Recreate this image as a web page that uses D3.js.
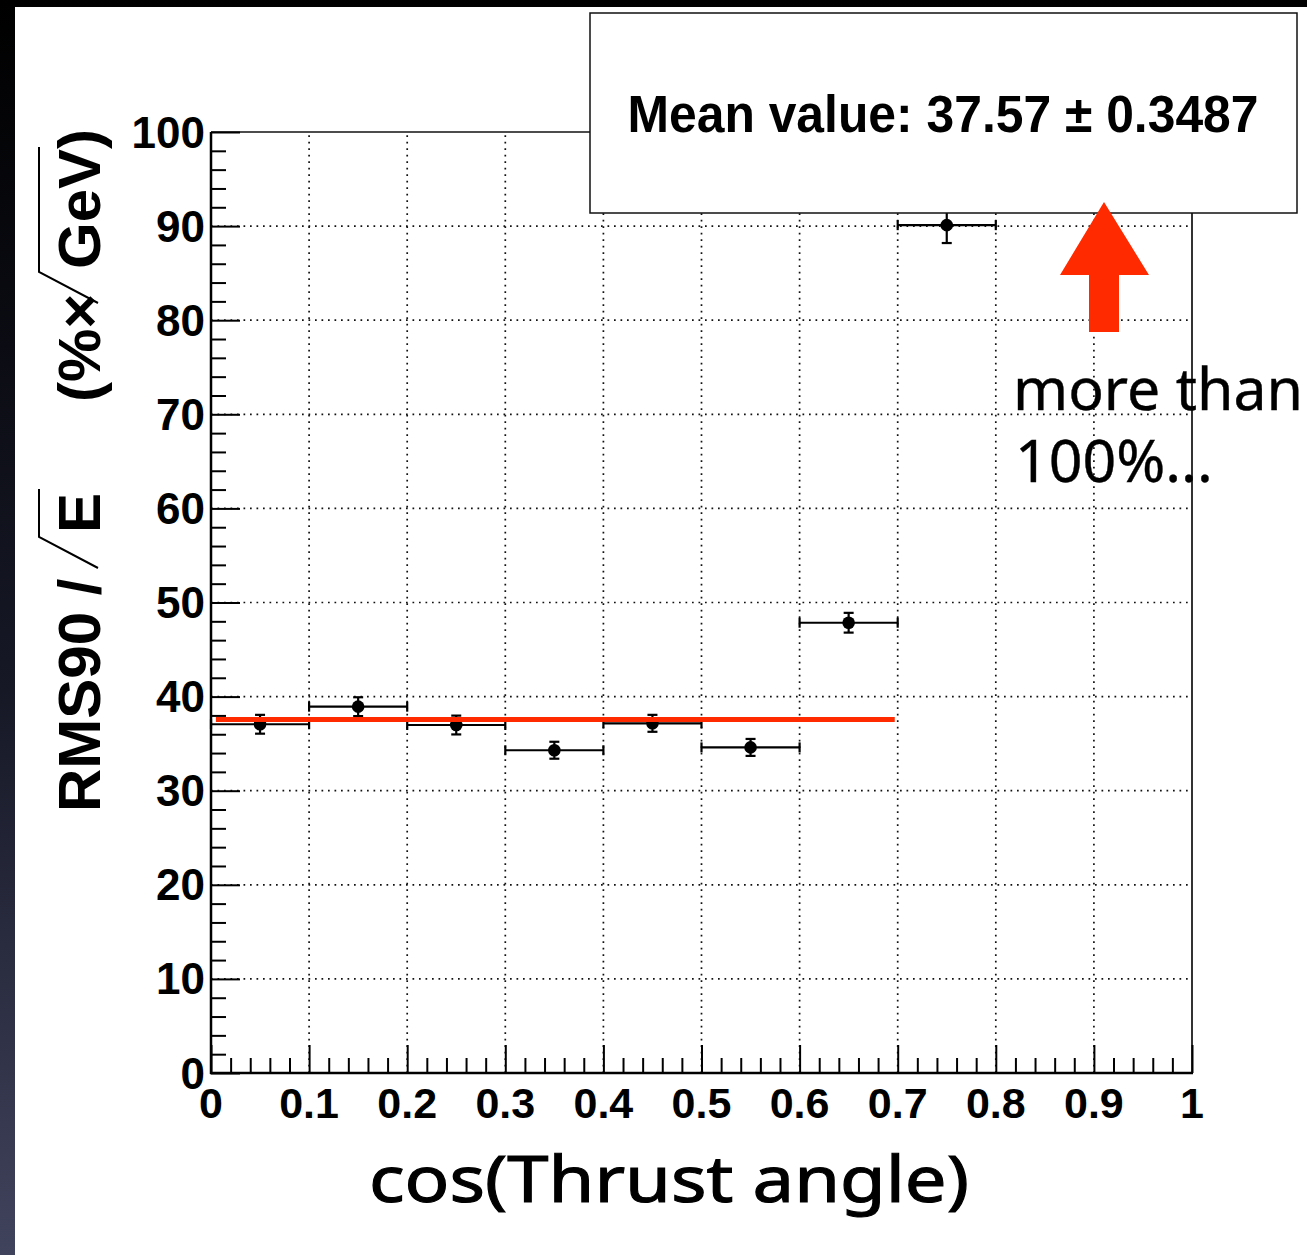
<!DOCTYPE html>
<html>
<head>
<meta charset="utf-8">
<script src="https://cdn.jsdelivr.net/npm/d3@7"></script>
<style>
  html, body { margin: 0; padding: 0; background: #000; }
  svg { display: block; }
</style>
</head>
<body>
<svg id="chart" width="1307" height="1255"></svg>
<script>
// ---- data ----
const cosBins      = [0.05, 0.15, 0.25, 0.35, 0.45, 0.55, 0.65, 0.75];
const rmsValues    = [37.06, 38.93, 36.98, 34.3, 37.16, 34.6, 47.85, 90.1];
const rmsErrors    = [1.0, 1.0, 1.0, 0.9, 0.9, 0.9, 1.05, 1.9];
const binHalfWidth = 0.05;
const meanValue    = 37.57;
const meanError    = 0.3487;
const fitRange     = [0.005, 0.697];
const xTickValues  = [0, 0.1, 0.2, 0.3, 0.4, 0.5, 0.6, 0.7, 0.8, 0.9, 1];
const xTickLabels  = ["0", "0.1", "0.2", "0.3", "0.4", "0.5", "0.6", "0.7", "0.8", "0.9", "1"];
const yTickValues  = [0, 10, 20, 30, 40, 50, 60, 70, 80, 90, 100];
const yTickLabels  = ["0", "10", "20", "30", "40", "50", "60", "70", "80", "90", "100"];

const svg = d3.select("#chart");
const W = 1307, H = 1255;

// background (slide frame)
const defs = svg.append("defs");
const grad = defs.append("linearGradient").attr("id", "bg").attr("x1", 0).attr("y1", 0).attr("x2", 0).attr("y2", 1);
grad.append("stop").attr("offset", "0%").attr("stop-color", "#000000");
grad.append("stop").attr("offset", "55%").attr("stop-color", "#161826");
grad.append("stop").attr("offset", "100%").attr("stop-color", "#40435c");
svg.append("rect").attr("width", W).attr("height", H).attr("fill", "url(#bg)");
svg.append("rect").attr("x", 15).attr("y", 7).attr("width", W - 15).attr("height", H - 7).attr("fill", "#fff");

const x = d3.scaleLinear().domain([0, 1]).range([211, 1192]);
const y = d3.scaleLinear().domain([0, 100]).range([1073, 132]);

const plot = svg.append("g");

// grid
const grid = plot.append("g").attr("stroke", "#111").attr("stroke-width", 1.7).attr("stroke-dasharray", "1.7,4.8");
grid.selectAll("line.gx").data(xTickValues.filter(v => v > 0 && v < 1)).join("line")
  .attr("class", "gx")
  .attr("x1", d => x(d)).attr("x2", d => x(d)).attr("y1", y(0)).attr("y2", y(100));
grid.selectAll("line.gy").data(yTickValues.filter(v => v > 0 && v < 100)).join("line")
  .attr("class", "gy")
  .attr("y1", d => y(d)).attr("y2", d => y(d)).attr("x1", x(0)).attr("x2", x(1));

// frame top & right
plot.append("line").attr("x1", x(0)).attr("x2", x(1)).attr("y1", y(100)).attr("y2", y(100))
  .attr("stroke", "#111").attr("stroke-width", 1.5);
plot.append("line").attr("x1", x(1)).attr("x2", x(1)).attr("y1", y(100)).attr("y2", y(0))
  .attr("stroke", "#333").attr("stroke-width", 2);

// axes with minor ticks
const xMinor = d3.range(0, 51).map(i => i * 0.02).filter(v => Math.abs(v * 10 - Math.round(v * 10)) > 1e-6);
const yMinor = d3.range(0, 51).map(i => i * 2).filter(v => v % 10 !== 0);

function styleAxis(g) {
  g.select(".domain").remove();
  g.selectAll(".tick line").attr("stroke", "#000").attr("stroke-width", 2);
}

const xAxisMajor = d3.axisTop(x).tickValues(xTickValues).tickSize(28).tickFormat("");
const xAxisMinor = d3.axisTop(x).tickValues(xMinor).tickSize(15).tickFormat("");
const yAxisMajor = d3.axisRight(y).tickValues(yTickValues).tickSize(29).tickFormat("");
const yAxisMinor = d3.axisRight(y).tickValues(yMinor).tickSize(15).tickFormat("");

plot.append("g").attr("transform", `translate(0,${y(0)})`).call(xAxisMajor).call(styleAxis);
plot.append("g").attr("transform", `translate(0,${y(0)})`).call(xAxisMinor).call(styleAxis);
plot.append("g").attr("transform", `translate(${x(0)},0)`).call(yAxisMajor).call(styleAxis);
plot.append("g").attr("transform", `translate(${x(0)},0)`).call(yAxisMinor).call(styleAxis);

// axis lines
plot.append("line").attr("x1", x(0) - 1).attr("x2", x(1) + 1).attr("y1", y(0)).attr("y2", y(0))
  .attr("stroke", "#000").attr("stroke-width", 2.5);
plot.append("line").attr("x1", x(0)).attr("x2", x(0)).attr("y1", y(0) + 1).attr("y2", y(100))
  .attr("stroke", "#000").attr("stroke-width", 2.5);

// tick labels
const tickFont = "'Liberation Sans', Arial, Helvetica, sans-serif";
plot.append("g").selectAll("text").data(xTickValues).join("text")
  .attr("x", d => x(d)).attr("y", 1118)
  .attr("text-anchor", "middle")
  .attr("font-family", tickFont).attr("font-weight", "bold").attr("font-size", 43)
  .text((d, i) => xTickLabels[i]);
plot.append("g").selectAll("text").data(yTickValues).join("text")
  .attr("x", x(0) - 6).attr("y", d => y(d) + 15.5)
  .attr("text-anchor", "end")
  .attr("font-family", tickFont).attr("font-weight", "bold").attr("font-size", 44)
  .text((d, i) => yTickLabels[i]);

// data points with error bars
const pts = plot.append("g").attr("stroke", "#000").attr("stroke-width", 2.2);
cosBins.forEach((c, i) => {
  const cx = x(c), cy = y(rmsValues[i]);
  const xl = x(c - binHalfWidth), xr = x(c + binHalfWidth);
  const yt = y(rmsValues[i] + rmsErrors[i]), yb = y(rmsValues[i] - rmsErrors[i]);
  pts.append("line").attr("x1", xl).attr("x2", xr).attr("y1", cy).attr("y2", cy);
  pts.append("line").attr("x1", xl).attr("x2", xl).attr("y1", cy - 5).attr("y2", cy + 5);
  pts.append("line").attr("x1", xr).attr("x2", xr).attr("y1", cy - 5).attr("y2", cy + 5);
  pts.append("line").attr("x1", cx).attr("x2", cx).attr("y1", yt).attr("y2", yb);
  pts.append("line").attr("x1", cx - 5).attr("x2", cx + 5).attr("y1", yt).attr("y2", yt);
  pts.append("line").attr("x1", cx - 5).attr("x2", cx + 5).attr("y1", yb).attr("y2", yb);
  pts.append("circle").attr("cx", cx).attr("cy", cy).attr("r", 6.3).attr("fill", "#000").attr("stroke", "none");
});

// fit line (mean)
plot.append("line")
  .attr("x1", x(fitRange[0])).attr("x2", x(fitRange[1]))
  .attr("y1", y(meanValue)).attr("y2", y(meanValue))
  .attr("stroke", "#ff2a00").attr("stroke-width", 5);

// stats box
svg.append("rect").attr("x", 590).attr("y", 13).attr("width", 707).attr("height", 200)
  .attr("fill", "#fff").attr("stroke", "#111").attr("stroke-width", 1.5);
svg.append("text").attr("x", 943).attr("y", 132)
  .attr("text-anchor", "middle")
  .attr("font-family", "'Liberation Sans Narrow', 'Liberation Sans', Arial, sans-serif")
  .attr("font-weight", "bold").attr("font-size", 51)
  .attr("textLength", 631).attr("lengthAdjust", "spacingAndGlyphs")
  .text(`Mean value: ${meanValue} \u00B1 ${meanError}`);

// red arrow
svg.append("path")
  .attr("d", d3.line()([[1104, 202], [1149, 275], [1119, 275], [1119, 332], [1089, 332], [1089, 275], [1060, 275]]) + "Z")
  .attr("fill", "#ff2a00");

// annotation
const annFont = "'Noto Sans', 'Open Sans', sans-serif";
const ann = svg.append("text")
  .attr("font-family", annFont).attr("font-size", 59).attr("fill", "#000")
  .attr("stroke", "#000").attr("stroke-width", 0.4);
ann.append("tspan").attr("x", 1013).attr("y", 410).text("more than");
ann.append("tspan").attr("x", 1015).attr("y", 482).text("100%...");

// x-axis title
svg.append("text").attr("x", 669).attr("y", 1202)
  .attr("text-anchor", "middle")
  .attr("font-family", annFont).attr("font-size", 64).attr("fill", "#000")
  .attr("stroke", "#000").attr("stroke-width", 1.1)
  .attr("textLength", 600).attr("lengthAdjust", "spacingAndGlyphs")
  .text("cos(Thrust angle)");

// y-axis title (rotated, with radicals)
const yl = svg.append("g").attr("transform", "translate(100,812) rotate(-90)");
const ylFont = { family: "'Liberation Sans', Arial, Helvetica, sans-serif", size: 60 };
function ytxt(u, s) {
  return yl.append("text").attr("x", u).attr("y", 0)
    .attr("font-family", ylFont.family).attr("font-weight", "bold").attr("font-size", ylFont.size)
    .attr("fill", "#000").text(s);
}
ytxt(0, "RMS90 /");
const eT = ytxt(279, "E");
const eEnd = 279 + eT.node().getComputedTextLength();
ytxt(410, "(%\u00D7");
const gT = ytxt(543, "GeV)");
const gevW = gT.node().getSubStringLength(0, 3);
const rad = yl.append("g").attr("stroke", "#000").attr("fill", "none").attr("stroke-width", 2);
rad.append("path").attr("d", d3.line()([[244, -2], [275, -61], [eEnd + 4, -61]]));
rad.append("path").attr("d", d3.line()([[509, -2], [540, -61], [543 + gevW + 2, -61]]));
</script>
</body>
</html>
